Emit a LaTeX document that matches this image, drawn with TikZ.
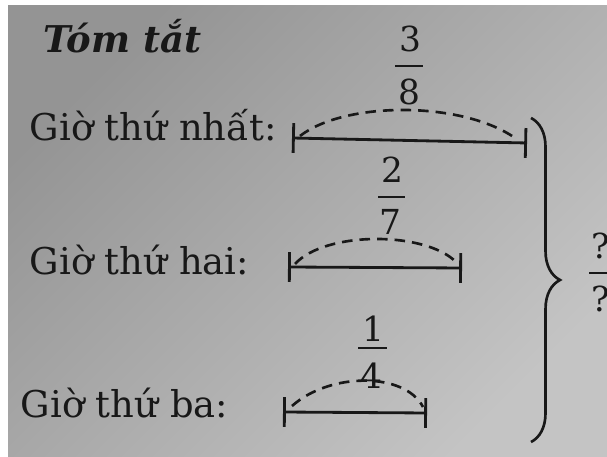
\documentclass[tikz,border=0pt]{standalone}
\usepackage{fontspec}
\setmainfont{DejaVu Serif}
\usepackage{xcolor}
\usetikzlibrary{arrows.meta,decorations.pathreplacing}
\definecolor{ink}{RGB}{24,24,24}
\definecolor{paperdark}{RGB}{148,148,148}
\definecolor{paperlight}{RGB}{196,196,196}

\begin{document}
\begin{tikzpicture}[
  x=0.1mm, y=-0.1mm,
  lbl/.style={anchor=base west, inner sep=0pt, text=ink, font=\fontsize{10.5}{12}\selectfont},
  title/.style={anchor=base west, inner sep=0pt, text=ink, font=\fontsize{10.5}{12}\selectfont\bfseries\itshape},
  num/.style={inner sep=0pt, text=ink, font=\fontsize{9.8}{11}\selectfont},
  fbar/.style={draw=ink, line width=0.75pt},
  seg/.style={draw=ink, line width=0.8pt, {Bar[width=8.5pt]}-{Bar[width=8.5pt]}},
  part/.style={draw=ink, line width=0.75pt, dash pattern=on 3pt off 2pt},
  total/.style={draw=ink, line width=0.75pt, decorate, decoration={brace, amplitude=2.9mm, aspect=0.5}}
]
% paper
\useasboundingbox (0,0) rectangle (607,457);
\clip (0,0) rectangle (607,457);
\fill[white] (0,0) rectangle (607,457);
\shade[shading=axis, top color=paperdark, bottom color=paperlight, shading angle=45] (8,6) rectangle (607,457);

\node[title] (head) at (43,53) {Tóm tắt};

% labels
\node[lbl] (h1) at (29,141) {Giờ thứ nhất:};
\node[lbl] (h2) at (29,275) {Giờ thứ hai:};
\node[lbl] (h3) at (20,417) {Giờ thứ ba:};

% segments
\coordinate (a1) at (292,138); \coordinate (b1) at (527,143);
\coordinate (a2) at (288,267); \coordinate (b2) at (462,268);
\coordinate (a3) at (283,412); \coordinate (b3) at (427,413);
\draw[seg] (a1) -- (b1);
\draw[seg] (a2) -- (b2);
\draw[seg] (a3) -- (b3);

% parts
\draw[part] (300,136) .. controls (345,101) and (462,101) .. (515,138);
\draw[part] (295,264) .. controls (325,231) and (425,231) .. (456,262);
\draw[part] (292,406) .. controls (330,372) and (405,372) .. (423,407);

% fractions
\node[num] (f1n) at (410,39) {3};
\draw[fbar] (395,66) -- (423,66);
\node[num] (f1d) at (409,92) {8};
\node[num] (f2n) at (392,170) {2};
\draw[fbar] (378,197) -- (405,197);
\node[num] (f2d) at (390,222) {7};
\node[num] (f3n) at (373,329) {1};
\draw[fbar] (358,348) -- (387,348);
\node[num] (f3d) at (371,376) {4};

% total
\draw[total] (531,118) -- (531,442);
\node[num] (qn) at (601,246) {?};
\draw[fbar] (589,273) -- (610,273);
\node[num] (qd) at (601,299) {?};
\end{tikzpicture}
\end{document}
